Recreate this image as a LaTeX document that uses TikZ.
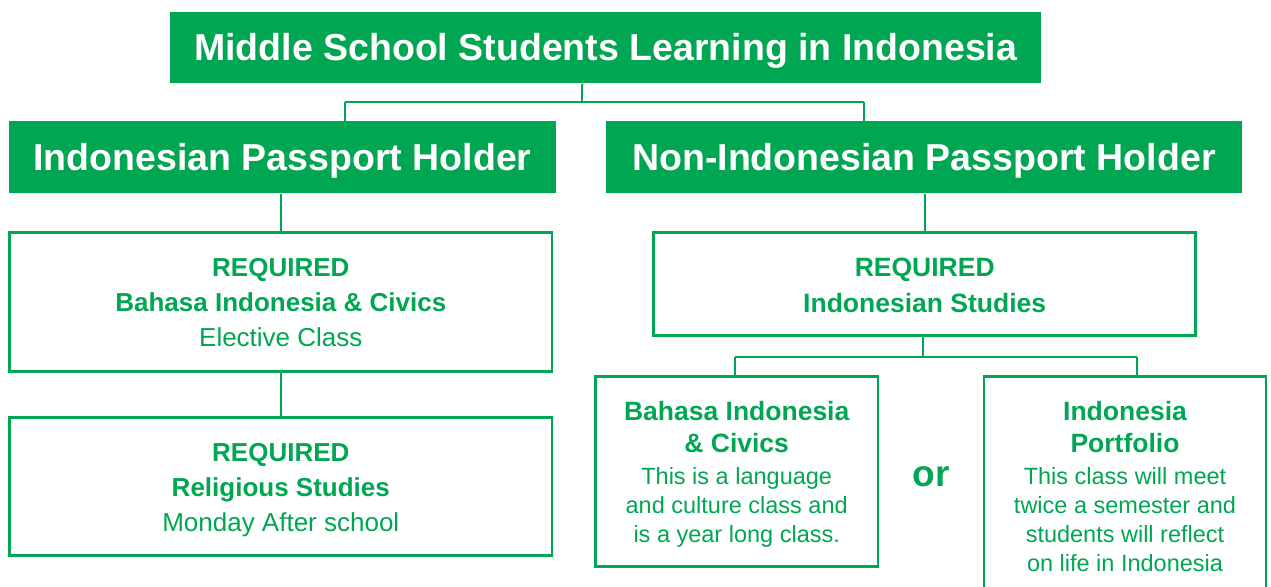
\documentclass[tikz,border=0pt]{standalone}
\usepackage{fontspec}
\setmainfont{Liberation Sans}
\definecolor{sgreen}{HTML}{00A651}
\begin{document}
\begin{tikzpicture}[x=1pt,y=-1pt,
  hdr/.style={fill=sgreen, text=white, inner sep=0pt, text height=26.9pt, text depth=0pt,
              font=\fontsize{37.5}{40}\selectfont\bfseries},
  box/.style={draw=sgreen, line width=2.5pt, inner sep=0pt},
  txt/.style={text=sgreen, align=center, inner sep=0pt, anchor=base},
  conn/.style={draw=sgreen, line width=2pt},
  bigtxt/.style={font=\fontsize{26}{35}\selectfont},
  smalltxt/.style={font=\fontsize{23.5}{29}\selectfont}]
\newcommand{\bl}[1]{{\fontsize{26.5}{29}\selectfont\bfseries #1}}
\useasboundingbox (0,0) rectangle (1271,586);
% headers
\node[hdr, minimum width=870.7pt, minimum height=71.6pt] (top) at (605.65,47.5) {Middle School Students Learning in Indonesia};
\node[hdr, minimum width=547pt, minimum height=72.3pt] (lp) at (282.5,157.15) {Indonesian Passport Holder};
\node[hdr, minimum width=635.8pt, minimum height=72.3pt] (rp) at (923.9,157.15) {Non-Indonesian Passport Holder};
% boxes
\node[box, minimum width=542.4pt, minimum height=139pt] (l1) at (280.8,302.2) {};
\node[box, minimum width=542.4pt, minimum height=138.4pt] (l2) at (280.8,486.5) {};
\node[box, minimum width=542pt, minimum height=103.4pt] (r1) at (924.7,284) {};
\node[box, minimum width=282.6pt, minimum height=190pt] (r2a) at (736.7,471.7) {};
\node[box, minimum width=282pt, minimum height=223.3pt] (r2b) at (1125,488.35) {};
% texts (base anchor = baseline of the last line)
\node[txt, bigtxt] (l1t) at (l1.center |- 0,346.7) {\bfseries REQUIRED\\ \bfseries Bahasa Indonesia \& Civics\\ Elective Class};
\node[txt, bigtxt] (l2t) at (l2.center |- 0,531.7) {\bfseries REQUIRED\\ \bfseries Religious Studies\\ Monday After school};
\node[txt, font=\fontsize{26.5}{36.3}\selectfont\bfseries] (r1t) at (r1.center |- 0,312.3) {REQUIRED\\ Indonesian Studies};
\node[txt, smalltxt] (r2at) at (r2a.center |- 0,542.7) {\bl{Bahasa Indonesia}\\[3pt] \bl{\& Civics}\\[3.3pt] This is a language\\ and culture class and\\ is a year long class.};
\node[txt, smalltxt] (r2bt) at (r2b.center |- 0,571.7) {\bl{Indonesia}\\[3pt] \bl{Portfolio}\\[3.3pt] This class will meet\\ twice a semester and\\ students will reflect\\ on life in Indonesia};
\node[txt, font=\fontsize{37}{40}\selectfont\bfseries] (or) at (931.4,486.7) {or};
% connectors
\coordinate (j0) at (582,101.7);
\coordinate (ja) at (345,101.7);
\coordinate (jb) at (864.4,101.7);
\draw[conn] (top.south -| j0) -- (j0);
\draw[conn] (ja) -- (jb);
\draw[conn] (ja) -- (lp.north -| ja);
\draw[conn] (jb) -- (rp.north -| jb);
\draw[conn] (lp.south -| l1.north) -- (l1.north);
\draw[conn] (l1.south) -- (l2.north);
\draw[conn] (rp.south -| r1.north) -- (r1.north);
\coordinate (k0) at (922.8,357.3);
\coordinate (ka) at (735,357.3);
\coordinate (kb) at (1137,357.3);
\draw[conn] (r1.south -| k0) -- (k0);
\draw[conn] (ka) -- (kb);
\draw[conn] (ka) -- (r2a.north -| ka);
\draw[conn] (kb) -- (r2b.north -| kb);
\end{tikzpicture}
\end{document}
